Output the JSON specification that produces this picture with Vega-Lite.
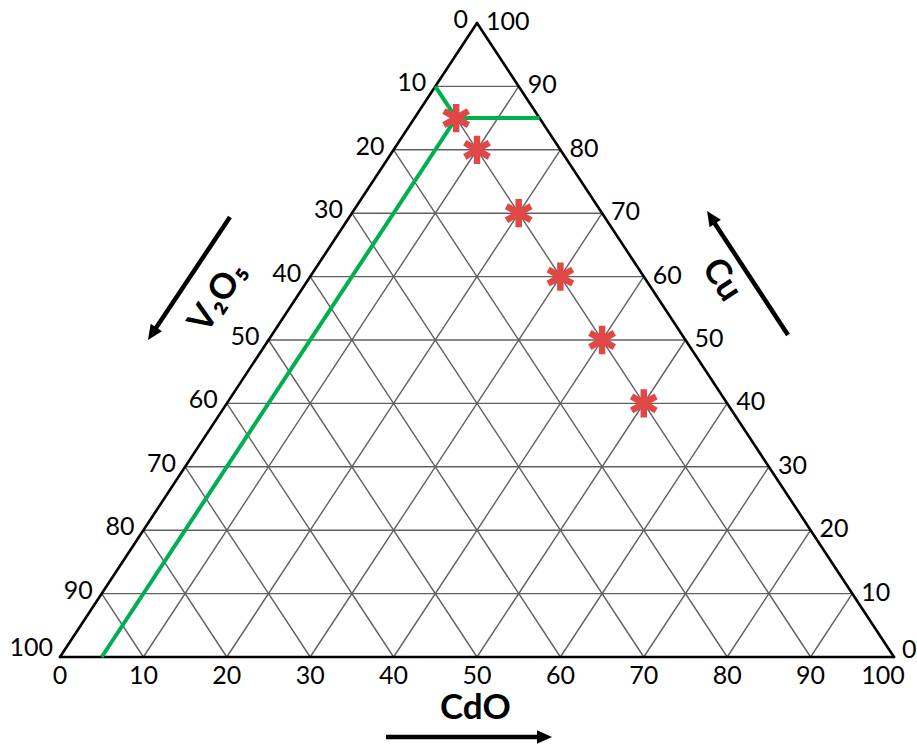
{
  "$schema": "https://vega.github.io/schema/vega-lite/v6.json",
  "width": 834,
  "height": 634,
  "autosize": {"type": "none"},
  "padding": {"left": 60, "top": 23, "right": 23, "bottom": 89},
  "background": "white",
  "config": {"view": {"stroke": null}},
  "datasets": {
    "grid": [
      {"c1": 0, "u1": 10, "c2": 90, "u2": 10},
      {"c1": 0, "u1": 20, "c2": 80, "u2": 20},
      {"c1": 0, "u1": 30, "c2": 70, "u2": 30},
      {"c1": 0, "u1": 40, "c2": 60, "u2": 40},
      {"c1": 0, "u1": 50, "c2": 50, "u2": 50},
      {"c1": 0, "u1": 60, "c2": 40, "u2": 60},
      {"c1": 0, "u1": 70, "c2": 30, "u2": 70},
      {"c1": 0, "u1": 80, "c2": 20, "u2": 80},
      {"c1": 0, "u1": 90, "c2": 10, "u2": 90},
      {"c1": 10, "u1": 0, "c2": 10, "u2": 90},
      {"c1": 20, "u1": 0, "c2": 20, "u2": 80},
      {"c1": 30, "u1": 0, "c2": 30, "u2": 70},
      {"c1": 40, "u1": 0, "c2": 40, "u2": 60},
      {"c1": 50, "u1": 0, "c2": 50, "u2": 50},
      {"c1": 60, "u1": 0, "c2": 60, "u2": 40},
      {"c1": 70, "u1": 0, "c2": 70, "u2": 30},
      {"c1": 80, "u1": 0, "c2": 80, "u2": 20},
      {"c1": 90, "u1": 0, "c2": 90, "u2": 10},
      {"c1": 90, "u1": 0, "c2": 0, "u2": 90},
      {"c1": 80, "u1": 0, "c2": 0, "u2": 80},
      {"c1": 70, "u1": 0, "c2": 0, "u2": 70},
      {"c1": 60, "u1": 0, "c2": 0, "u2": 60},
      {"c1": 50, "u1": 0, "c2": 0, "u2": 50},
      {"c1": 40, "u1": 0, "c2": 0, "u2": 40},
      {"c1": 30, "u1": 0, "c2": 0, "u2": 30},
      {"c1": 20, "u1": 0, "c2": 0, "u2": 20},
      {"c1": 10, "u1": 0, "c2": 0, "u2": 10}
    ],
    "edges": [
      {"c1": 0, "u1": 0, "c2": 100, "u2": 0},
      {"c1": 0, "u1": 0, "c2": 0, "u2": 100},
      {"c1": 100, "u1": 0, "c2": 0, "u2": 100}
    ],
    "boundary": [
      {"seg": "a", "ord": 1, "c": 5, "u": 0},
      {"seg": "a", "ord": 2, "c": 5, "u": 85},
      {"seg": "a", "ord": 3, "c": 0, "u": 90},
      {"seg": "b", "ord": 1, "c": 5, "u": 85},
      {"seg": "b", "ord": 2, "c": 15, "u": 85}
    ],
    "samples": [
      {"c": 5, "u": 85},
      {"c": 10, "u": 80},
      {"c": 20, "u": 70},
      {"c": 30, "u": 60},
      {"c": 40, "u": 50},
      {"c": 50, "u": 40}
    ],
    "bottomLabels": [
      {"c": 0, "u": 0, "t": "0"},
      {"c": 10, "u": 0, "t": "10"},
      {"c": 20, "u": 0, "t": "20"},
      {"c": 30, "u": 0, "t": "30"},
      {"c": 40, "u": 0, "t": "40"},
      {"c": 50, "u": 0, "t": "50"},
      {"c": 60, "u": 0, "t": "60"},
      {"c": 70, "u": 0, "t": "70"},
      {"c": 80, "u": 0, "t": "80"},
      {"c": 90, "u": 0, "t": "90"}
    ],
    "bottomEnd": [
      {"c": 100, "u": 0, "t": "100"}
    ],
    "leftLabels": [
      {"c": 0, "u": 100, "t": "0"},
      {"c": 0, "u": 90, "t": "10"},
      {"c": 0, "u": 80, "t": "20"},
      {"c": 0, "u": 70, "t": "30"},
      {"c": 0, "u": 60, "t": "40"},
      {"c": 0, "u": 50, "t": "50"},
      {"c": 0, "u": 40, "t": "60"},
      {"c": 0, "u": 30, "t": "70"},
      {"c": 0, "u": 20, "t": "80"},
      {"c": 0, "u": 10, "t": "90"}
    ],
    "leftEnd": [
      {"c": 0, "u": 0, "t": "100"}
    ],
    "rightLabels": [
      {"c": 0, "u": 100, "t": "100"},
      {"c": 10, "u": 90, "t": "90"},
      {"c": 20, "u": 80, "t": "80"},
      {"c": 30, "u": 70, "t": "70"},
      {"c": 40, "u": 60, "t": "60"},
      {"c": 50, "u": 50, "t": "50"},
      {"c": 60, "u": 40, "t": "40"},
      {"c": 70, "u": 30, "t": "30"},
      {"c": 80, "u": 20, "t": "20"},
      {"c": 90, "u": 10, "t": "10"}
    ],
    "rightEnd": [
      {"c": 100, "u": 0, "t": "0"}
    ],
    "titles": [
      {"name": "CdO", "x": 49.8, "y": -8.0, "t": "CdO"},
      {"name": "V2O5", "x": 18.9, "y": 56.8, "t": "V₂O₅"},
      {"name": "Cu", "x": 79.4, "y": 59.5, "t": "Cu"}
    ],
    "shafts": [
      {"name": "CdO", "x": 39.09, "y": -12.62, "x2": 57.8, "y2": -12.62},
      {"name": "V2O5", "x": 20.38, "y": 69.4, "x2": 11.2, "y2": 51.3},
      {"name": "Cu", "x": 87.29, "y": 50.8, "x2": 78.2, "y2": 69.0}
    ],
    "heads": [
      {"name": "CdO", "x": 58.99, "y": -12.62},
      {"name": "V2O5", "x": 10.55, "y": 50.0},
      {"name": "Cu", "x": 77.58, "y": 70.35}
    ]
  },
  "encoding": {
    "x": {"field": "x", "type": "quantitative", "scale": {"domain": [0, 100], "nice": false, "zero": false}, "axis": null},
    "y": {"field": "y", "type": "quantitative", "scale": {"domain": [0, 100], "nice": false, "zero": false}, "axis": null}
  },
  "layer": [
    {
      "data": {"name": "grid"},
      "transform": [
        {"calculate": "datum.c1 + datum.u1 / 2", "as": "x"},
        {"calculate": "datum.u1", "as": "y"},
        {"calculate": "datum.c2 + datum.u2 / 2", "as": "x2"},
        {"calculate": "datum.u2", "as": "y2"}
      ],
      "mark": {"type": "rule", "color": "#606060", "strokeWidth": 1.4},
      "encoding": {"x2": {"field": "x2"}, "y2": {"field": "y2"}}
    },
    {
      "data": {"name": "edges"},
      "transform": [
        {"calculate": "datum.c1 + datum.u1 / 2", "as": "x"},
        {"calculate": "datum.u1", "as": "y"},
        {"calculate": "datum.c2 + datum.u2 / 2", "as": "x2"},
        {"calculate": "datum.u2", "as": "y2"}
      ],
      "mark": {"type": "rule", "color": "#000000", "strokeWidth": 2.6, "strokeCap": "round"},
      "encoding": {"x2": {"field": "x2"}, "y2": {"field": "y2"}}
    },
    {
      "data": {"name": "boundary"},
      "transform": [
        {"calculate": "datum.c + datum.u / 2", "as": "x"},
        {"calculate": "datum.u", "as": "y"}
      ],
      "mark": {"type": "line", "color": "#00B050", "strokeWidth": 4, "strokeJoin": "miter"},
      "encoding": {"detail": {"field": "seg"}, "order": {"field": "ord", "type": "quantitative"}}
    },
    {
      "data": {"name": "samples"},
      "transform": [
        {"calculate": "datum.c + datum.u / 2", "as": "x"},
        {"calculate": "datum.u", "as": "y"}
      ],
      "mark": {"type": "point", "shape": "M0,-1L0,1M-0.866,-0.5L0.866,0.5M-0.866,0.5L0.866,-0.5", "size": 800, "filled": false, "color": "#E04848", "strokeWidth": 6.5, "opacity": 1}
    },
    {
      "data": {"name": "bottomLabels"},
      "transform": [
        {"calculate": "datum.c + datum.u / 2", "as": "x"},
        {"calculate": "datum.u", "as": "y"}
      ],
      "mark": {"type": "text", "font": "Lato", "fontSize": 25, "align": "center", "baseline": "middle", "dy": 19, "color": "#000000"},
      "encoding": {"text": {"field": "t"}}
    },
    {
      "data": {"name": "bottomEnd"},
      "transform": [
        {"calculate": "datum.c + datum.u / 2", "as": "x"},
        {"calculate": "datum.u", "as": "y"}
      ],
      "mark": {"type": "text", "font": "Lato", "fontSize": 25, "align": "center", "baseline": "middle", "dx": -11, "dy": 19, "color": "#000000"},
      "encoding": {"text": {"field": "t"}}
    },
    {
      "data": {"name": "leftLabels"},
      "transform": [
        {"calculate": "datum.c + datum.u / 2", "as": "x"},
        {"calculate": "datum.u", "as": "y"}
      ],
      "mark": {"type": "text", "font": "Lato", "fontSize": 25, "align": "right", "baseline": "middle", "dx": -9, "dy": -3, "color": "#000000"},
      "encoding": {"text": {"field": "t"}}
    },
    {
      "data": {"name": "leftEnd"},
      "transform": [
        {"calculate": "datum.c + datum.u / 2", "as": "x"},
        {"calculate": "datum.u", "as": "y"}
      ],
      "mark": {"type": "text", "font": "Lato", "fontSize": 25, "align": "right", "baseline": "middle", "dx": -7, "dy": -9, "color": "#000000"},
      "encoding": {"text": {"field": "t"}}
    },
    {
      "data": {"name": "rightLabels"},
      "transform": [
        {"calculate": "datum.c + datum.u / 2", "as": "x"},
        {"calculate": "datum.u", "as": "y"}
      ],
      "mark": {"type": "text", "font": "Lato", "fontSize": 25, "align": "left", "baseline": "middle", "dx": 9, "dy": -1, "color": "#000000"},
      "encoding": {"text": {"field": "t"}}
    },
    {
      "data": {"name": "rightEnd"},
      "transform": [
        {"calculate": "datum.c + datum.u / 2", "as": "x"},
        {"calculate": "datum.u", "as": "y"}
      ],
      "mark": {"type": "text", "font": "Lato", "fontSize": 25, "align": "left", "baseline": "middle", "dx": 8, "dy": -7, "color": "#000000"},
      "encoding": {"text": {"field": "t"}}
    },
    {
      "data": {"name": "titles"},
      "transform": [{"filter": "datum.name === 'CdO'"}],
      "mark": {"type": "text", "font": "Lato", "fontWeight": "bold", "fontSize": 35, "align": "center", "baseline": "middle", "color": "#000000"},
      "encoding": {"text": {"field": "t"}}
    },
    {
      "data": {"name": "titles"},
      "transform": [{"filter": "datum.name === 'V2O5'"}],
      "mark": {"type": "text", "font": "Lato, DejaVu Sans", "fontWeight": "bold", "fontSize": 35, "align": "center", "baseline": "middle", "angle": -57, "color": "#000000"},
      "encoding": {"text": {"field": "t"}}
    },
    {
      "data": {"name": "titles"},
      "transform": [{"filter": "datum.name === 'Cu'"}],
      "mark": {"type": "text", "font": "Lato", "fontWeight": "bold", "fontSize": 35, "align": "center", "baseline": "middle", "angle": 57, "color": "#000000"},
      "encoding": {"text": {"field": "t"}}
    },
    {
      "data": {"name": "shafts"},
      "mark": {"type": "rule", "color": "#000000", "strokeWidth": 4.5},
      "encoding": {"x2": {"field": "x2"}, "y2": {"field": "y2"}}
    },
    {
      "data": {"name": "heads"},
      "transform": [{"filter": "datum.name === 'CdO'"}],
      "mark": {"type": "point", "shape": "M0,0L-1,-0.45L-1,0.45Z", "size": 900, "filled": true, "color": "#000000", "opacity": 1, "strokeWidth": 0, "angle": 0}
    },
    {
      "data": {"name": "heads"},
      "transform": [{"filter": "datum.name === 'V2O5'"}],
      "mark": {"type": "point", "shape": "M0,0L-1,-0.45L-1,0.45Z", "size": 900, "filled": true, "color": "#000000", "opacity": 1, "strokeWidth": 0, "angle": 123.7}
    },
    {
      "data": {"name": "heads"},
      "transform": [{"filter": "datum.name === 'Cu'"}],
      "mark": {"type": "point", "shape": "M0,0L-1,-0.45L-1,0.45Z", "size": 900, "filled": true, "color": "#000000", "opacity": 1, "strokeWidth": 0, "angle": 236.8}
    }
  ]
}
